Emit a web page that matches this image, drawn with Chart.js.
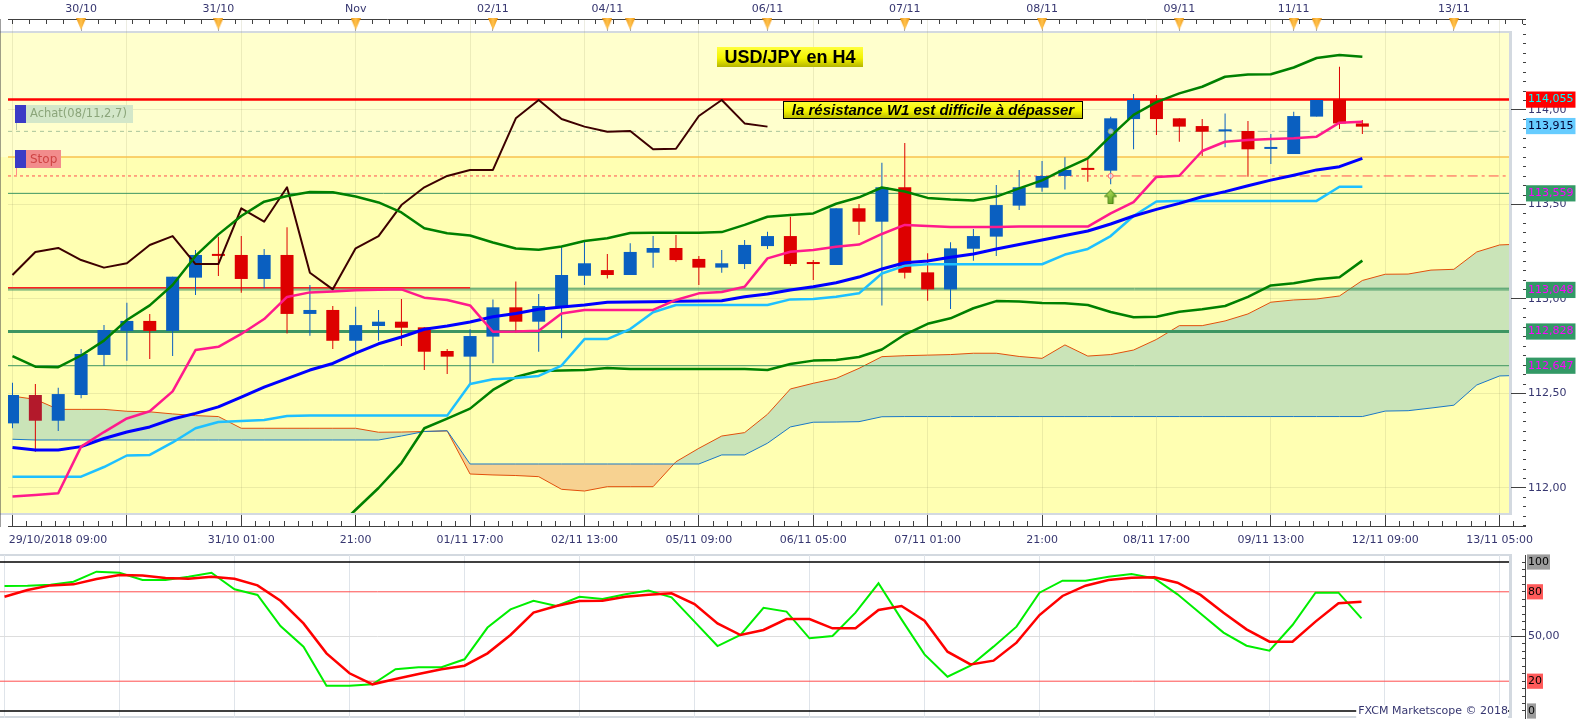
<!DOCTYPE html>
<html lang="fr">
<head>
<meta charset="utf-8">
<title>USD/JPY en H4</title>
<script src="https://cdn.jsdelivr.net/npm/chart.js@4.4.1/dist/chart.umd.min.js"></script>
<style>
  html, body { margin:0; padding:0; background:#ffffff; overflow:hidden; }
  #wrap { position:relative; width:1583px; height:720px; }
  #main { position:absolute; left:0; top:0; width:1583px; height:552px; }
  #stoch { position:absolute; left:0; top:552px; width:1583px; height:168px; }
</style>
</head>
<body>
<div id="wrap">
  <canvas id="main" width="1583" height="552"></canvas>
  <canvas id="stoch" width="1583" height="168"></canvas>
</div>
<script>
// ================= DATA =================
const OPEN = [112.342,112.492,112.356,112.492,112.704,112.831,112.884,112.831,113.113,113.231,
  113.233,113.106,113.233,112.921,112.942,112.779,112.857,112.880,112.850,112.725,
  112.695,112.801,112.956,112.880,112.959,113.123,113.153,113.127,113.245,113.270,
  113.212,113.166,113.185,113.280,113.333,113.187,113.180,113.480,113.409,113.591,
  113.141,113.051,113.266,113.330,113.494,113.589,113.651,113.685,113.679,113.952,
  114.053,113.956,113.915,113.887,113.889,113.794,113.767,113.965,114.053,113.929];
const HIGH = [112.557,112.550,112.531,112.735,112.862,112.980,112.921,113.118,113.259,113.330,
  113.333,113.265,113.379,113.074,112.963,112.959,112.942,113.000,112.850,112.735,
  112.840,112.998,113.092,113.026,113.277,113.312,113.238,113.295,113.333,113.339,
  113.228,113.259,113.312,113.356,113.435,113.206,113.480,113.503,113.721,113.825,
  113.242,113.300,113.370,113.603,113.683,113.730,113.750,113.739,113.964,114.085,
  114.079,113.956,113.952,113.982,113.942,113.873,113.991,114.053,114.229,113.947];
const LOW = [112.316,112.192,112.302,112.475,112.646,112.673,112.683,112.698,113.021,113.122,
  113.033,113.057,112.818,112.806,112.735,112.716,112.779,112.751,112.624,112.603,
  112.554,112.660,112.822,112.721,112.792,113.074,113.109,113.127,113.166,113.197,
  113.074,113.139,113.159,113.265,113.175,113.101,113.180,113.339,112.965,113.109,
  112.991,112.947,113.203,113.228,113.471,113.568,113.580,113.621,113.607,113.792,
  113.868,113.832,113.757,113.803,113.647,113.714,113.767,113.965,113.899,113.873];
const CLOSE = [112.492,112.356,112.497,112.709,112.836,112.884,112.831,113.118,113.233,113.228,
  113.106,113.233,112.921,112.942,112.779,112.862,112.880,112.848,112.721,112.695,
  112.804,112.956,112.880,112.963,113.127,113.189,113.127,113.249,113.270,113.206,
  113.166,113.189,113.286,113.333,113.185,113.185,113.480,113.409,113.591,113.139,
  113.051,113.268,113.333,113.497,113.591,113.651,113.683,113.683,113.956,114.053,
  113.952,113.912,113.885,113.889,113.792,113.795,113.968,114.053,113.929,113.912];

const TENKAN = [111.955,111.963,111.972,112.219,112.296,112.368,112.406,112.511,112.730,112.747,
  112.815,112.894,113.011,113.035,113.040,113.046,113.049,113.051,113.007,112.995,
  112.966,112.827,112.828,112.832,112.923,112.942,112.942,112.942,112.942,112.995,
  113.030,113.037,113.065,113.215,113.250,113.259,113.276,113.288,113.344,113.392,
  113.386,113.381,113.381,113.381,113.383,113.383,113.383,113.383,113.453,113.513,
  113.646,113.652,113.783,113.832,113.841,113.847,113.850,113.859,113.933,113.938];
const KIJUN = [112.060,112.060,112.060,112.060,112.111,112.172,112.175,112.241,112.316,112.349,
  112.354,112.360,112.381,112.383,112.383,112.383,112.383,112.383,112.383,112.383,
  112.550,112.575,112.582,112.593,112.648,112.788,112.788,112.841,112.930,112.968,
  112.968,112.968,112.968,112.968,112.998,113.000,113.012,113.030,113.135,113.176,
  113.184,113.184,113.184,113.184,113.184,113.184,113.235,113.265,113.333,113.439,
  113.516,113.519,113.519,113.519,113.519,113.519,113.519,113.519,113.594,113.594];
const SMA = [112.214,112.201,112.201,112.219,112.262,112.296,112.323,112.365,112.395,112.429,
  112.481,112.534,112.579,112.624,112.659,112.714,112.763,112.799,112.840,112.857,
  112.878,112.906,112.923,112.946,112.958,112.968,112.983,112.984,112.986,112.988,
  112.989,112.991,113.012,113.026,113.048,113.065,113.086,113.116,113.159,113.192,
  113.201,113.221,113.238,113.265,113.288,113.312,113.336,113.360,113.397,113.439,
  113.474,113.506,113.541,113.568,113.599,113.629,113.655,113.683,113.700,113.744];
const BB_UPPER = [112.698,112.642,112.639,112.701,112.780,112.889,112.966,113.074,113.228,113.342,
  113.439,113.515,113.545,113.566,113.565,113.542,113.511,113.458,113.374,113.348,
  113.336,113.299,113.267,113.261,113.278,113.307,113.321,113.349,113.351,113.351,
  113.351,113.354,113.392,113.435,113.444,113.453,113.504,113.538,113.590,113.569,
  113.535,113.526,113.521,113.542,113.585,113.628,113.689,113.744,113.862,113.974,
  114.042,114.088,114.123,114.176,114.188,114.189,114.225,114.275,114.291,114.282];
const BB_LOWER = [null,null,null,null,null,null,null,null,null,null,
  null,null,null,111.646,111.767,111.885,112.000,112.132,112.316,112.367,
  112.420,112.519,112.587,112.619,112.622,112.624,112.635,112.630,112.630,112.630,
  112.630,112.630,112.630,112.624,112.656,112.674,112.677,112.693,112.733,112.812,
  112.869,112.898,112.951,112.989,112.987,112.979,112.977,112.968,112.931,112.903,
  112.906,112.933,112.946,112.963,113.011,113.072,113.083,113.104,113.115,113.203];
const SENKOU_A = [112.486,112.469,112.416,112.416,112.416,112.406,112.403,112.392,112.383,112.378,
  112.316,112.316,112.316,112.316,112.316,112.316,112.295,112.296,112.299,112.302,
  112.074,112.069,112.066,112.060,111.993,111.984,112.007,112.007,112.007,112.139,
  112.210,112.275,112.293,112.390,112.524,112.554,112.580,112.633,112.695,112.700,
  112.703,112.706,112.713,112.713,112.696,112.686,112.757,112.698,112.706,112.730,
  112.786,112.859,112.859,112.884,112.921,112.983,112.995,113.000,113.016,113.098,
  113.131,113.132,113.153,113.157,113.249,113.286,113.291];
const SENKOU_B = [112.258,112.254,112.254,112.254,112.254,112.254,112.254,112.254,112.254,112.254,
  112.254,112.254,112.254,112.254,112.254,112.254,112.254,112.275,112.299,112.303,
  112.127,112.127,112.127,112.127,112.127,112.127,112.127,112.127,112.127,112.127,
  112.127,112.175,112.175,112.237,112.323,112.348,112.349,112.351,112.377,112.378,
  112.378,112.378,112.378,112.378,112.378,112.378,112.378,112.378,112.378,112.378,
  112.378,112.378,112.378,112.378,112.378,112.378,112.378,112.378,112.378,112.378,
  112.407,112.409,112.423,112.438,112.545,112.593,112.596];
const CHIKOU = [113.127,113.249,113.270,113.206,113.166,113.189,113.286,113.333,113.185,113.185,
  113.480,113.409,113.591,113.139,113.051,113.268,113.333,113.497,113.591,113.651,
  113.683,113.683,113.956,114.053,113.952,113.912,113.885,113.889,113.792,113.795,
  113.968,114.053,113.929,113.912];

const STOCH_K = [83.9,84.1,84.8,86.8,93.5,92.8,87.9,87.9,90.1,92.8,
  81.7,77.9,57,43.2,17,17,17.9,28,29.4,29.4,
  34.7,56,68.2,74,70.5,76.7,75.2,78.3,80.8,76.3,
  60,43.6,51,69.3,66.7,48.8,50.3,66,85.7,61.5,
  38,23,30.4,43.2,56.6,79.4,87.5,87.5,90.1,91.9,
  89,78.3,65.5,52.6,43.8,40.5,57.7,79.4,79.4,62.2];
const STOCH_D = [76.7,81.2,84.3,85,88.6,91.3,91,89.3,88.8,90.1,
  88.8,84.3,74,58.8,38.7,25.3,17.9,21.5,24.8,28,
  30.4,38.7,51,66,70.5,73.8,74,76.7,78,79,
  71.8,58.8,51,54.4,61.7,61.7,55.5,55.5,67.8,70.5,
  60.6,39.8,31.3,33.8,45.9,64.4,77.2,84.1,87.9,89.5,
  89.7,86.1,77.9,66,54.8,46.5,46.5,60,72.3,73.4];
const STOCH_LEVELS = [100, 80, 50, 20, 0];
const STOCH_LABELLED = [0, 20, 50, 80, 100];

const LEVEL_RESISTANCE = 114.055;
const LEVEL_BUY = 113.887;
const LEVEL_ZONE = 113.751;
const LEVEL_STOP = 113.651;
const LEVEL_SUPPORTS = [113.559, 113.057, 113.048, 112.647];
const LEVEL_SUPPORT_MAIN = 112.828;
const LEVEL_OLD_RED = 113.060;
const PRICE_TAGS = [114.055, 113.915, 113.559, 113.048, 112.828, 112.647];

const BOTTOM_LABEL_INDEX = [0, 10, 15, 20, 25, 30, 35, 40, 45, 50, 55, 60, 65];
const BOTTOM_LABELS = ['29/10/2018 09:00','31/10 01:00','21:00','01/11 17:00','02/11 13:00','05/11 09:00',
  '06/11 05:00','07/11 01:00','21:00','08/11 17:00','09/11 13:00','12/11 09:00','13/11 05:00'];
const TOP_LABEL_INDEX = [3, 9, 15, 21, 26, 33, 39, 45, 51, 56, 63];
const TOP_LABELS = ['30/10','31/10','Nov','02/11','04/11','06/11','07/11','08/11','09/11','11/11','13/11'];
const DAY_MARK_INDEX = [3, 9, 15, 21, 26, 27, 33, 39, 45, 51, 56, 57, 63];

const ENTRY_BAR = 48;
const SIGNAL_PRICE = 113.54;
const HIGHLIGHT_BAR = 1;
const OLD_RED_END_BAR = 20;

const TITLE_TEXT = 'USD/JPY en H4';
const NOTE_TEXT = 'la résistance W1 est difficile à dépasser';
const BUY_TEXT = 'Achat(08/11,2,7)';
const STOP_TEXT = 'Stop';
const COPYRIGHT = 'FXCM Marketscope © 2018';

// ================= LAYOUT / STYLE =================
const BAR_PX = 23, FIRST_BAR_PX = 4.5, AREA_RIGHT = 1525, PLOT_RIGHT = 1509;
const X_MIN = -FIRST_BAR_PX / BAR_PX;
const X_MAX = (AREA_RIGHT - FIRST_BAR_PX) / BAR_PX;
const Y_MIN = 111.79894, Y_MAX = 114.48148;
const S_MIN = -4.698, S_MAX = 104.698;
const MARK_LEVEL = 114.455;
const FONT = 'DejaVu Sans';
const AXIS_TEXT = '#363670';
const AXIS_LINE = '#404040';
const FRAME = '#d3d9e0';
const YELLOW = '#ffffb2';
const PALE = '#ffffcd';
const FAINT = 'rgba(160,160,110,0.20)';
const TRANSPARENT = 'rgba(0,0,0,0)';
const CLIP_MAIN = {left: 0, top: -14, right: -16, bottom: -13};
const CLIP_STOCH = {left: 0, top: -1, right: -16, bottom: -2};
const TAG_BG = ['#ff0000', '#66ccff', '#339966', '#339966', '#339966', '#339966'];
const TAG_FG = ['#00ffff', '#000033', '#ff00ff', '#ff00ff', '#ff00ff', '#ff00ff'];

Chart.defaults.font.family = FONT;
Chart.defaults.font.size = 11;
Chart.defaults.color = AXIS_TEXT;

const comma = (v, d) => v.toFixed(d).replace('.', ',');
const near = (a, b) => Math.abs(a - b) < 1e-6;
const isHalf = v => near(v * 2, Math.round(v * 2));
const isFive = v => near(v / 5, Math.round(v / 5));
const pts = arr => arr.map((v, i) => ({x: i, y: v})).filter(p => p.y !== null);
const isUp = i => CLOSE[i] >= OPEN[i];

const mctx = document.createElement('canvas').getContext('2d');
mctx.font = '11px ' + FONT;
const FIRST_LABEL_X = X_MIN + (mctx.measureText(BOTTOM_LABELS[0]).width / 2 + 1) / BAR_PX;

function makeDayMark() {
  const c = document.createElement('canvas'); c.width = 10; c.height = 12;
  const g = c.getContext('2d');
  const gr = g.createLinearGradient(0, 0, 10, 0);
  gr.addColorStop(0, '#ee9510'); gr.addColorStop(0.5, '#ffc24d'); gr.addColorStop(1, '#ee9510');
  g.fillStyle = gr; g.beginPath(); g.moveTo(0, 0); g.lineTo(10, 0); g.lineTo(5, 12); g.closePath(); g.fill();
  return c;
}
function makeArrow() {
  const c = document.createElement('canvas'); c.width = 13; c.height = 15;
  const g = c.getContext('2d');
  const gr = g.createLinearGradient(0, 0, 13, 15);
  gr.addColorStop(0, '#c8f06a'); gr.addColorStop(1, '#4a8e10');
  g.fillStyle = gr; g.strokeStyle = '#3f7d0c'; g.lineWidth = 1;
  g.beginPath(); g.moveTo(6.5, 0.5); g.lineTo(12.5, 7); g.lineTo(9, 7); g.lineTo(9, 14.5);
  g.lineTo(4, 14.5); g.lineTo(4, 7); g.lineTo(0.5, 7); g.closePath(); g.fill(); g.stroke();
  return c;
}

function hLine(value, from, to, color, width, dash, order) {
  return { label: 'niveau ' + value, data: [{x: from, y: value}, {x: to, y: value}],
    borderColor: color, borderWidth: width, borderDash: dash, fill: false, order: order || 90 };
}

const candleColor = ctx => {
  const i = ctx.dataIndex;
  if (isUp(i)) return '#0a5fc0';
  return i === HIGHLIGHT_BAR ? '#b3192b' : '#dd0000';
};
const wickColor = ctx => isUp(ctx.dataIndex) ? '#0a5fc0' : '#dd0000';

const mainDatasets = [
  { label: 'Senkou A', data: pts(SENKOU_A), borderColor: '#e2500c', borderWidth: 1,
    fill: {target: 1, above: '#cae4b8', below: '#f7d291'}, order: 100 },
  { label: 'Senkou B', data: pts(SENKOU_B), borderColor: '#1878c8', borderWidth: 1, fill: false, order: 99 },
  hLine(LEVEL_ZONE, X_MIN, X_MAX, '#f8c24e', 1.5, []),
  hLine(LEVEL_BUY, X_MIN, ENTRY_BAR, '#a9c49a', 1, [4, 4]),
  hLine(LEVEL_BUY, ENTRY_BAR, X_MAX, '#a9c49a', 1, [10, 4, 3, 4]),
  hLine(LEVEL_STOP, X_MIN, ENTRY_BAR, '#ff5050', 1, [3, 3]),
  hLine(LEVEL_STOP, ENTRY_BAR, X_MAX, '#ff5050', 1, [10, 4, 3, 4]),
  ...LEVEL_SUPPORTS.map(v => hLine(v, X_MIN, X_MAX, '#3d9562', 1, [])),
  hLine(LEVEL_SUPPORT_MAIN, X_MIN, X_MAX, '#3d9562', 3, []),
  hLine(LEVEL_OLD_RED, X_MIN, OLD_RED_END_BAR, '#ff2020', 1.5, [], 88),
  hLine(LEVEL_RESISTANCE, X_MIN, X_MAX, '#ff0000', 2.5, [], 88),
  { type: 'bar', label: 'mèches', data: HIGH.map((h, i) => ({x: i, y: [LOW[i], h]})),
    backgroundColor: wickColor, barThickness: 1, grouped: false, borderWidth: 0, inflateAmount: 0, order: 80 },
  { type: 'bar', label: 'corps', data: OPEN.map((o, i) => ({x: i, y: [o, CLOSE[i]]})),
    backgroundColor: candleColor, barThickness: 13, minBarLength: 2, grouped: false, borderWidth: 0, inflateAmount: 0, order: 79 },
  { label: 'Chikou', data: pts(CHIKOU), borderColor: '#3d0000', borderWidth: 2, order: 60 },
  { label: 'BB haute', data: pts(BB_UPPER), borderColor: '#008000', borderWidth: 2.5, order: 56 },
  { label: 'BB basse', data: pts(BB_LOWER), borderColor: '#008000', borderWidth: 2.5, order: 55 },
  { label: 'Kijun', data: pts(KIJUN), borderColor: '#1ec0ff', borderWidth: 2.5, order: 54 },
  { label: 'MM', data: pts(SMA), borderColor: '#0000ff', borderWidth: 3, order: 52 },
  { label: 'Tenkan', data: pts(TENKAN), borderColor: '#ff1a8c', borderWidth: 2.5, order: 50 },
  { label: 'entrée', data: [{x: ENTRY_BAR, y: LEVEL_BUY}], showLine: false, pointStyle: 'circle',
    pointRadius: 2.5, borderColor: '#8fb07e', backgroundColor: 'rgba(255,255,255,0.6)', pointBorderWidth: 1, order: 12 },
  { label: 'stop', data: [{x: ENTRY_BAR, y: LEVEL_STOP}], showLine: false, pointStyle: 'circle',
    pointRadius: 2.5, borderColor: '#ff6a6a', backgroundColor: 'rgba(255,255,255,0.6)', pointBorderWidth: 1, order: 12 },
  { label: 'signal', data: [{x: ENTRY_BAR, y: SIGNAL_PRICE}], showLine: false, pointStyle: makeArrow(),
    pointRadius: 7, order: 11 },
  { label: 'jours', data: DAY_MARK_INDEX.map(i => ({x: i, y: MARK_LEVEL})), showLine: false,
    pointStyle: makeDayMark(), pointRadius: 6, clip: false, xAxisID: 'xTop', order: 10 }
];
mainDatasets.forEach(d => {
  if (d.clip === undefined) d.clip = CLIP_MAIN;
  if (!d.xAxisID) d.xAxisID = 'x';
  d.yAxisID = 'y';
  if (d.pointRadius === undefined) { d.pointRadius = 0; d.pointHoverRadius = 0; }
});

function yellowBox(ctx, x, y, w, h, border) {
  const g = ctx.createLinearGradient(0, y, 0, y + h);
  g.addColorStop(0, '#ffff3c'); g.addColorStop(0.55, '#f4f400'); g.addColorStop(1, '#b5b500');
  ctx.fillStyle = g; ctx.fillRect(x, y, w, h);
  if (border) { ctx.strokeStyle = '#000'; ctx.lineWidth = 1; ctx.strokeRect(x + 0.5, y + 0.5, w - 1, h - 1); }
}
function fitFont(ctx, text, style, size, family, maxW) {
  let s = size;
  do { ctx.font = style + ' ' + s + 'px "' + family + '"'; s -= 0.5; }
  while (ctx.measureText(text).width > maxW && s > 6);
}

const mainDecor = {
  id: 'mainDecor',
  beforeDraw(chart) {
    const ctx = chart.ctx, ys = chart.scales.y;
    ctx.save();
    ctx.fillStyle = '#ffffff'; ctx.fillRect(0, 0, chart.width, chart.height);
    ctx.fillStyle = FRAME; ctx.fillRect(0, 31, PLOT_RIGHT + 3, 484);
    ctx.fillStyle = YELLOW; ctx.fillRect(0, 33, PLOT_RIGHT, 480);
    const yz = ys.getPixelForValue(LEVEL_ZONE);
    ctx.fillStyle = PALE; ctx.fillRect(0, 33, PLOT_RIGHT, yz - 33);
    ctx.restore();
  },
  afterDatasetsDraw(chart) {
    const ctx = chart.ctx;
    ctx.save();
    ctx.fillStyle = '#ffffff'; ctx.fillRect(PLOT_RIGHT + 3, 31, AREA_RIGHT - PLOT_RIGHT - 3, 484);
    ctx.fillStyle = FRAME; ctx.fillRect(PLOT_RIGHT, 31, 3, 484);
    // title box
    yellowBox(ctx, 717, 47, 146, 20, false);
    ctx.fillStyle = '#000'; ctx.textAlign = 'center'; ctx.textBaseline = 'middle';
    fitFont(ctx, TITLE_TEXT, 'bold', 18, 'Liberation Sans', 138);
    ctx.fillText(TITLE_TEXT, 790, 58);
    // note box
    yellowBox(ctx, 783, 101, 300, 18, true);
    ctx.fillStyle = '#000';
    fitFont(ctx, NOTE_TEXT, 'italic bold', 15, 'Liberation Sans', 292);
    ctx.fillText(NOTE_TEXT, 933, 110.5);
    // order labels
    ctx.textAlign = 'left';
    ctx.strokeStyle = '#b9c9ae'; ctx.lineWidth = 1;
    ctx.beginPath(); ctx.moveTo(16.5, 123); ctx.lineTo(16.5, 130); ctx.stroke();
    ctx.strokeStyle = '#ff8a8a';
    ctx.beginPath(); ctx.moveTo(16.5, 168); ctx.lineTo(16.5, 175); ctx.stroke();
    ctx.fillStyle = '#3b3bc6'; ctx.fillRect(15, 105, 11, 18); ctx.fillRect(15, 150, 11, 18);
    ctx.fillStyle = '#d3e7c9'; ctx.fillRect(26, 105, 107, 18);
    ctx.fillStyle = '#f28c8c'; ctx.fillRect(26, 150, 35, 18);
    ctx.fillStyle = '#8ba57a';
    fitFont(ctx, BUY_TEXT, 'normal', 12, FONT, 100);
    ctx.fillText(BUY_TEXT, 30, 114.5);
    ctx.fillStyle = '#cf4444';
    fitFont(ctx, STOP_TEXT, 'normal', 12, FONT, 30);
    ctx.fillText(STOP_TEXT, 30, 159.5);
    ctx.restore();
  }
};

new Chart(document.getElementById('main'), {
  type: 'line',
  data: { datasets: mainDatasets },
  options: {
    responsive: false, maintainAspectRatio: false, animation: false, devicePixelRatio: 1, events: [],
    layout: { padding: 0 },
    plugins: { legend: { display: false }, tooltip: { enabled: false } },
    elements: { line: { tension: 0, borderJoinStyle: 'round' } },
    scales: {
      x: {
        type: 'linear', axis: 'x', position: 'bottom', min: X_MIN, max: X_MAX, bounds: 'data', offset: false,
        afterBuildTicks(s) {
          const t = [];
          for (let k = 0; k <= 105; k++) t.push({value: k * 0.625});
          t.push({value: FIRST_LABEL_X, first: true});
          s.ticks = t;
        },
        afterFit(s) { s.height = 26; s.paddingLeft = 0; s.paddingRight = 0; },
        grid: {
          offset: false, drawOnChartArea: true, tickLength: -11,
          color: c => (c.tick && !c.tick.first && isFive(c.tick.value)) ? FAINT : TRANSPARENT,
          tickColor: c => (c.tick && c.tick.first) ? TRANSPARENT : AXIS_LINE,
          tickBorderDash: c => (c.tick && isFive(c.tick.value)) ? [] : [6, 100]
        },
        border: { display: true, color: AXIS_LINE, width: 1 },
        ticks: {
          autoSkip: false, maxRotation: 0, minRotation: 0, padding: 18.4,
          callback(v, i, ts) {
            if (ts[i].first) return BOTTOM_LABELS[0];
            const j = BOTTOM_LABEL_INDEX.indexOf(v);
            return j > 0 ? BOTTOM_LABELS[j] : '';
          }
        }
      },
      xTop: {
        type: 'linear', axis: 'x', position: 'top', min: X_MIN, max: X_MAX, bounds: 'data', offset: false,
        afterBuildTicks(s) {
          const t = [];
          for (let k = 0; k <= 88; k++) t.push({value: k * 0.75});
          DAY_MARK_INDEX.forEach(v => { if (!t.some(q => near(q.value, v))) t.push({value: v}); });
          t.sort((a, b) => a.value - b.value);
          s.ticks = t;
        },
        afterFit(s) { s.height = 19; s.paddingLeft = 0; s.paddingRight = 0; },
        grid: {
          offset: false, drawOnChartArea: false, tickLength: -12,
          tickColor: c => (c.tick && DAY_MARK_INDEX.some(v => near(v, c.tick.value))) ? '#a8a8a8' : AXIS_LINE,
          tickBorderDash: c => (c.tick && DAY_MARK_INDEX.some(v => near(v, c.tick.value))) ? [] : [0, 7, 5, 100]
        },
        border: { display: true, color: AXIS_LINE, width: 1 },
        ticks: {
          autoSkip: false, maxRotation: 0, minRotation: 0, padding: 15.4,
          callback(v) { const j = TOP_LABEL_INDEX.findIndex(q => near(q, v)); return j >= 0 ? TOP_LABELS[j] : ''; }
        }
      },
      y: {
        type: 'linear', axis: 'y', position: 'right', min: Y_MIN, max: Y_MAX, bounds: 'data', beginAtZero: false,
        afterBuildTicks(s) {
          const t = [];
          for (let k = 2236; k <= 2289; k++) t.push({value: k / 20});
          PRICE_TAGS.forEach((v, j) => t.push({value: v, tag: j}));
          s.ticks = t;
        },
        afterFit(s) { s.width = 58; s.paddingTop = 0; s.paddingBottom = 0; },
        grid: {
          drawOnChartArea: false, drawTicks: true, tickLength: -14, z: 1,
          tickColor: c => (c.tick && c.tick.tag !== undefined) ? TRANSPARENT : AXIS_LINE,
          tickBorderDash: c => (c.tick && c.tick.tag === undefined && !isHalf(c.tick.value)) ? [3, 100] : [],
          tickWidth: 1
        },
        border: { display: true, color: AXIS_LINE, width: 1 },
        ticks: {
          autoSkip: false, padding: 17,
          color: c => (c.tick && c.tick.tag !== undefined) ? TAG_FG[c.tick.tag] : AXIS_TEXT,
          showLabelBackdrop: c => !!(c.tick && c.tick.tag !== undefined),
          backdropColor: c => (c.tick && c.tick.tag !== undefined) ? TAG_BG[c.tick.tag] : TRANSPARENT,
          backdropPadding: { left: 2, right: 2, top: 1.5, bottom: 1.5 },
          callback(v, i, ts) {
            const t = ts[i];
            if (t.tag !== undefined) return comma(v, 3);
            return isHalf(v) ? comma(v, 2) : '';
          }
        }
      },
      yGrid: {
        type: 'linear', axis: 'y', position: 'right', min: Y_MIN, max: Y_MAX, bounds: 'data', beginAtZero: false,
        afterBuildTicks(s) { s.ticks = [112, 112.5, 113, 113.5, 114].map(v => ({value: v})); },
        afterFit(s) { s.width = 0; s.paddingTop = 0; s.paddingBottom = 0; },
        grid: { drawOnChartArea: true, drawTicks: false, color: FAINT },
        border: { display: false },
        ticks: { display: false }
      }
    }
  },
  plugins: [mainDecor]
});

// ================= STOCHASTIC PANEL =================
const STOCH_STYLE = { 100: ['#000000', 1.5], 80: ['#ff4d4d', 1], 50: ['#dddddd', 1], 20: ['#ff4d4d', 1], 0: ['#000000', 1.5] };
const stochDatasets = [
  ...STOCH_LEVELS.map(v => ({ label: 'niveau ' + v, data: [{x: X_MIN, y: v}, {x: X_MAX, y: v}],
    borderColor: STOCH_STYLE[v][0], borderWidth: STOCH_STYLE[v][1], order: 90 })),
  { label: '%K', data: pts(STOCH_K), borderColor: '#00ee00', borderWidth: 2, order: 20 },
  { label: '%D', data: pts(STOCH_D), borderColor: '#ff0000', borderWidth: 2.5, order: 10 }
];
stochDatasets.forEach(d => { d.clip = CLIP_STOCH; d.pointRadius = 0; d.pointHoverRadius = 0; d.fill = false; });

const STOCH_BG = { 100: '#9c9c9c', 80: '#ff5a5a', 20: '#ff5a5a', 0: '#9c9c9c' };
const stochDecor = {
  id: 'stochDecor',
  beforeDraw(chart) {
    const ctx = chart.ctx;
    ctx.save();
    ctx.fillStyle = '#ffffff'; ctx.fillRect(0, 0, chart.width, chart.height);
    ctx.fillStyle = FRAME; ctx.fillRect(0, 2, PLOT_RIGHT + 3, 164);
    ctx.fillStyle = '#ffffff'; ctx.fillRect(0, 4, PLOT_RIGHT, 160);
    ctx.restore();
  },
  afterDatasetsDraw(chart) {
    const ctx = chart.ctx;
    ctx.save();
    ctx.font = '11px ' + FONT;
    const w = ctx.measureText(COPYRIGHT).width;
    ctx.fillStyle = '#ffffff'; ctx.fillRect(PLOT_RIGHT - 1 - w - 2, 153, w + 2, 13);
    ctx.fillStyle = AXIS_TEXT; ctx.textAlign = 'right'; ctx.textBaseline = 'middle';
    ctx.fillText(COPYRIGHT, PLOT_RIGHT - 1, 159.5);
    ctx.restore();
  }
};

new Chart(document.getElementById('stoch'), {
  type: 'line',
  data: { datasets: stochDatasets },
  options: {
    responsive: false, maintainAspectRatio: false, animation: false, devicePixelRatio: 1, events: [],
    layout: { padding: { top: 3, left: 0, right: 0, bottom: 0 } },
    plugins: { legend: { display: false }, tooltip: { enabled: false } },
    elements: { line: { tension: 0 } },
    scales: {
      x: {
        type: 'linear', position: 'bottom', min: X_MIN, max: X_MAX, bounds: 'data', offset: false,
        afterBuildTicks(s) { const t = []; for (let v = 0; v <= 65; v += 5) t.push({value: v}); s.ticks = t; },
        afterFit(s) { s.height = 2; s.paddingLeft = 0; s.paddingRight = 0; },
        grid: { offset: false, drawOnChartArea: true, drawTicks: false, color: '#dfe4ea' },
        border: { display: false },
        ticks: { display: false }
      },
      y: {
        type: 'linear', position: 'right', min: S_MIN, max: S_MAX, bounds: 'data', beginAtZero: false,
        afterBuildTicks(s) { const t = []; for (let v = 0; v <= 100; v += 5) t.push({value: v}); s.ticks = t; },
        afterFit(s) { s.width = 58; s.paddingTop = 0; s.paddingBottom = 0; },
        grid: {
          drawOnChartArea: false, drawTicks: true, tickLength: -14, tickColor: AXIS_LINE,
          tickBorderDash: c => (c.tick && c.tick.value === 50) ? [] : [4, 100]
        },
        border: { display: true, color: AXIS_LINE, width: 1 },
        ticks: {
          autoSkip: false, padding: 17,
          color: c => (c.tick && STOCH_BG[c.tick.value]) ? '#000000' : AXIS_TEXT,
          showLabelBackdrop: c => !!(c.tick && STOCH_BG[c.tick.value]),
          backdropColor: c => (c.tick && STOCH_BG[c.tick.value]) || TRANSPARENT,
          backdropPadding: { left: 1, right: 1, top: 1, bottom: 1 },
          callback(v) {
            if (!STOCH_LABELLED.includes(v)) return '';
            return v === 50 ? comma(v, 2) : String(v);
          }
        }
      }
    }
  },
  plugins: [stochDecor]
});
</script>
</body>
</html>
